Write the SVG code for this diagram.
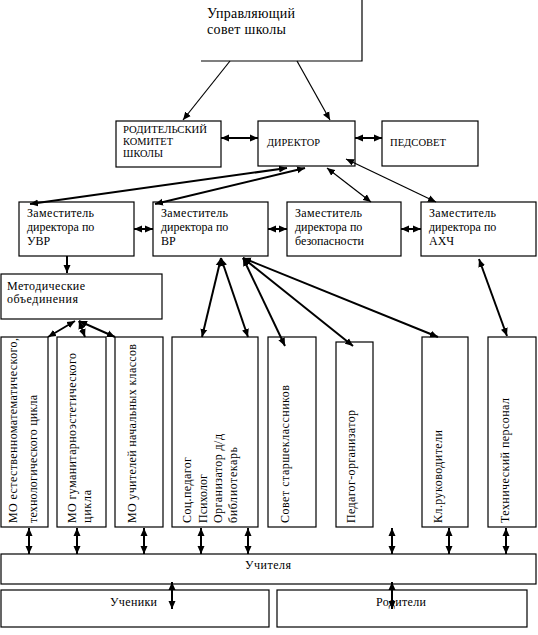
<svg xmlns="http://www.w3.org/2000/svg" width="538" height="635" viewBox="0 0 538 635" font-family="Liberation Serif, Times New Roman, DejaVu Serif, serif">
<style>
.box{fill:#fff;stroke:#000;stroke-width:1.2}
text{font-family:"Liberation Serif","DejaVu Serif",serif}
.t{font-size:12px;fill:#000}
.cap{font-size:10.5px;fill:#000}
.big{font-size:14px;fill:#000}
.c{stroke:#000;stroke-width:2;fill:none}
.thin{stroke:#000;stroke-width:1.2;fill:none}
.m1{marker-end:url(#ah)}
.m2{marker-start:url(#ah);marker-end:url(#ah)}
</style>
<defs>
<marker id="ah" markerUnits="userSpaceOnUse" markerWidth="9" markerHeight="8" refX="8" refY="4" orient="auto-start-reverse">
<path d="M0,0.5 L8,4 L0,7.5 Z" fill="#000"/>
</marker>
</defs>
<rect width="538" height="635" fill="#fff"/>

<g id="sovet">
<path d="M201,61 H362 V0" class="thin"/>
<text class="big" x="207" y="18" textLength="88" lengthAdjust="spacing">Управляющий</text>
<text class="big" x="207" y="34" textLength="79" lengthAdjust="spacing">совет  школы</text>
</g>

<g id="roditelsky">
<rect class="box" x="116" y="121" width="105" height="46"/>
<text class="cap" x="123" y="133" textLength="84" lengthAdjust="spacingAndGlyphs">РОДИТЕЛЬСКИЙ</text>
<text class="cap" x="123" y="145" textLength="50" lengthAdjust="spacingAndGlyphs">КОМИТЕТ</text>
<text class="cap" x="123" y="157" textLength="40" lengthAdjust="spacingAndGlyphs">ШКОЛЫ</text>
</g>

<g id="direktor">
<rect class="box" x="258" y="121" width="97" height="45"/>
<text class="cap" x="267" y="146" textLength="53" lengthAdjust="spacingAndGlyphs">ДИРЕКТОР</text>
</g>

<g id="pedsovet">
<rect class="box" x="382" y="121" width="96" height="45"/>
<text class="cap" x="390" y="146" textLength="56" lengthAdjust="spacingAndGlyphs">ПЕДСОВЕТ</text>
</g>

<g id="zam-uvr">
<rect class="box" x="19" y="202" width="115" height="54"/>
<text class="t" x="27" y="217" textLength="67" lengthAdjust="spacing">Заместитель</text>
<text class="t" x="27" y="231">директора по</text>
<text class="t" x="27" y="245">УВР</text>
</g>

<g id="zam-vr">
<rect class="box" x="153" y="202" width="115" height="54"/>
<text class="t" x="161" y="217" textLength="67" lengthAdjust="spacing">Заместитель</text>
<text class="t" x="161" y="231">директора по</text>
<text class="t" x="161" y="245">ВР</text>
</g>

<g id="zam-bez">
<rect class="box" x="287" y="202" width="114" height="54"/>
<text class="t" x="295" y="217" textLength="67" lengthAdjust="spacing">Заместитель</text>
<text class="t" x="295" y="231">директора по</text>
<text class="t" x="295" y="245">безопасности</text>
</g>

<g id="zam-ahch">
<rect class="box" x="421" y="202" width="115" height="54"/>
<text class="t" x="429" y="217" textLength="67" lengthAdjust="spacing">Заместитель</text>
<text class="t" x="429" y="231">директора по</text>
<text class="t" x="429" y="245">АХЧ</text>
</g>

<g id="metod">
<rect class="box" x="1" y="274" width="161" height="45"/>
<text class="t" x="7" y="290" textLength="78" lengthAdjust="spacing">Методические</text>
<text class="t" x="7" y="303" textLength="71" lengthAdjust="spacing">объединения</text>
</g>

<g id="mo1">
<rect class="box" x="1" y="337" width="47" height="190"/>
<text class="t" transform="translate(17,523) rotate(-90)" textLength="185" lengthAdjust="spacing">МО естественноматематического,</text>
<text class="t" transform="translate(37,523) rotate(-90)" textLength="128" lengthAdjust="spacing">технологического цикла</text>
</g>

<g id="mo2">
<rect class="box" x="57" y="337" width="49" height="190"/>
<text class="t" transform="translate(76,523) rotate(-90)" textLength="170" lengthAdjust="spacing">МО гуманитарноэстетического</text>
<text class="t" transform="translate(91,523) rotate(-90)" textLength="33" lengthAdjust="spacing">цикла</text>
</g>

<g id="mo3">
<rect class="box" x="115" y="337" width="48" height="190"/>
<text class="t" transform="translate(136,523) rotate(-90)" textLength="179" lengthAdjust="spacing">МО учителей начальных классов</text>
</g>

<g id="soc">
<rect class="box" x="172" y="337" width="86" height="190"/>
<text class="t" transform="translate(191,523) rotate(-90)" textLength="66" lengthAdjust="spacing">Соц.педагог</text>
<text class="t" transform="translate(207,523) rotate(-90)" textLength="49" lengthAdjust="spacing">Психолог</text>
<text class="t" transform="translate(222,523) rotate(-90)" textLength="89" lengthAdjust="spacing">Организатор д/д</text>
<text class="t" transform="translate(237,523) rotate(-90)" textLength="76" lengthAdjust="spacing">библиотекарь</text>
</g>

<g id="sovet-star">
<rect class="box" x="268" y="337" width="48" height="190"/>
<text class="t" transform="translate(289,523) rotate(-90)" textLength="138" lengthAdjust="spacing">Совет старшеклассников</text>
</g>

<g id="pedorg">
<rect class="box" x="336" y="342" width="37" height="185"/>
<text class="t" transform="translate(355,523) rotate(-90)" textLength="113" lengthAdjust="spacing">Педагог-организатор</text>
</g>

<g id="klruk">
<rect class="box" x="422" y="337" width="46" height="190"/>
<text class="t" transform="translate(442,523) rotate(-90)" textLength="93" lengthAdjust="spacing">Кл.руководители</text>
</g>

<g id="tehn">
<rect class="box" x="488" y="337" width="48" height="190"/>
<text class="t" transform="translate(509,523) rotate(-90)" textLength="125" lengthAdjust="spacing">Технический персонал</text>
</g>

<g id="uchitelya">
<rect class="box" x="1" y="554" width="535" height="30"/>
<text class="t" x="245" y="569" textLength="46" lengthAdjust="spacing">Учителя</text>
</g>

<g id="ucheniki">
<rect class="box" x="1" y="590" width="268" height="37"/>
<text class="t" x="110" y="606" textLength="47" lengthAdjust="spacing">Ученики</text>
</g>

<g id="roditeli">
<rect class="box" x="277" y="590" width="250" height="37"/>
<text class="t" x="376" y="606" textLength="50" lengthAdjust="spacing">Родители</text>
</g>

<g id="connectors">
<line class="thin m1" x1="230" y1="61" x2="183" y2="120"/>
<line class="thin m1" x1="297" y1="61" x2="330" y2="120"/>
<line class="c m2" x1="221" y1="138" x2="258" y2="138"/>
<line class="c m2" x1="355" y1="138" x2="382" y2="138"/>
<line class="c m2" x1="30" y1="204" x2="287" y2="168"/>
<line class="c m2" x1="155" y1="204" x2="305" y2="168"/>
<line class="thin m2" x1="327" y1="168" x2="371" y2="202"/>
<line class="thin m2" x1="346" y1="159" x2="436" y2="202"/>
<line class="c m2" x1="134" y1="229" x2="153" y2="229"/>
<line class="c m2" x1="268" y1="229" x2="287" y2="229"/>
<line class="c m2" x1="401" y1="229" x2="421" y2="229"/>
<line class="c m1" x1="67" y1="256" x2="67" y2="273"/>
<line class="c m2" x1="75" y1="321" x2="48" y2="337"/>
<line class="c m2" x1="79" y1="321" x2="85" y2="337"/>
<line class="c m2" x1="79" y1="321" x2="115" y2="337"/>
<line class="c m2" x1="221" y1="258" x2="202" y2="337"/>
<line class="c m2" x1="221" y1="258" x2="248" y2="337"/>
<line class="c m2" x1="243" y1="258" x2="285" y2="346"/>
<line class="c m2" x1="243" y1="258" x2="353" y2="346"/>
<line class="c m2" x1="243" y1="258" x2="438" y2="337"/>
<line class="c m2" x1="479" y1="259" x2="507" y2="336"/>
<line class="c m2" x1="29" y1="528" x2="29" y2="554"/>
<line class="c m2" x1="77" y1="528" x2="77" y2="554"/>
<line class="c m2" x1="144" y1="528" x2="144" y2="554"/>
<line class="c m2" x1="201" y1="528" x2="201" y2="554"/>
<line class="c m2" x1="248" y1="528" x2="248" y2="554"/>
<line class="c m2" x1="392" y1="528" x2="392" y2="554"/>
<line class="c m2" x1="449" y1="528" x2="449" y2="554"/>
<line class="c m2" x1="506" y1="528" x2="506" y2="554"/>
<line class="c m2" x1="172" y1="582" x2="172" y2="609"/>
<line class="c m2" x1="392" y1="582" x2="392" y2="609"/>
</g>
</svg>
